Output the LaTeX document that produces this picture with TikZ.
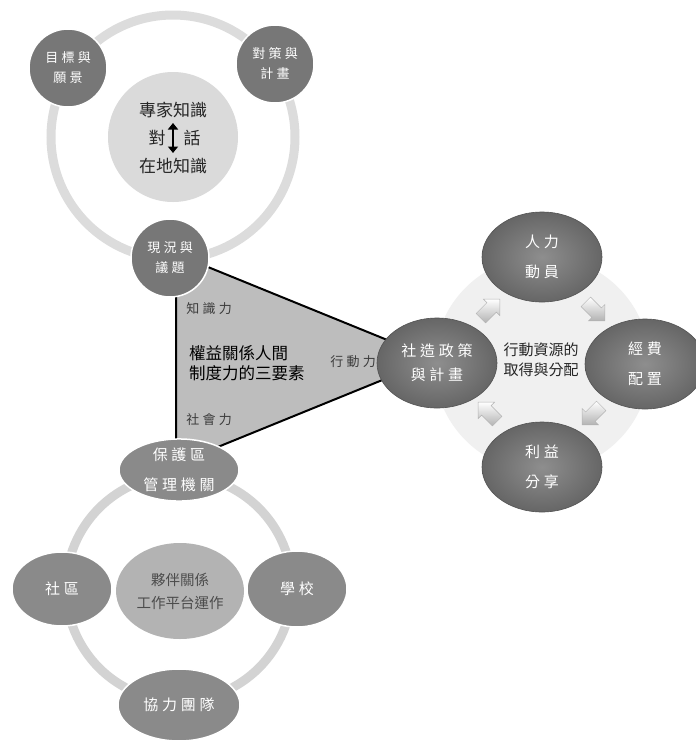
\documentclass[tikz,border=0pt]{standalone}
\usepackage{fontspec}
\newfontfamily\cjk{Noto Sans CJK TC}
\newfontfamily\cjkw[LetterSpace=25]{Noto Sans CJK TC}
\usetikzlibrary{shapes.geometric,shapes.arrows,arrows.meta}
\definecolor{ringtop}{HTML}{DCDCDC}
\definecolor{innertop}{HTML}{DADADA}
\definecolor{topcirc}{HTML}{777777}
\definecolor{trifill}{HTML}{BDBDBD}
\definecolor{pale}{HTML}{F0F0F0}
\definecolor{rin}{HTML}{8E8E8E}
\definecolor{rout}{HTML}{666666}
\definecolor{ringbot}{HTML}{D3D3D3}
\definecolor{innerbot}{HTML}{B3B3B3}
\definecolor{botell}{HTML}{8A8A8A}
\definecolor{labgray}{HTML}{3C3C3C}
\tikzset{
  topc/.style={circle, minimum size=78pt, inner sep=0pt, fill=topcirc, draw=white, line width=1.5pt,
    text=white, align=center, font=\cjkw\fontsize{13}{20}\selectfont},
  rell/.style={ellipse, minimum width=120pt, minimum height=90pt, inner sep=0pt,
    shading=radial, inner color=rin, outer color=rout, draw=rout!80!black, line width=0.6pt,
    text=white, align=center, font=\cjkw\fontsize{15}{30}\selectfont},
  bell/.style={ellipse, inner sep=0pt, fill=botell, draw=white, line width=1.5pt,
    text=white, align=center, font=\cjkw\fontsize{15}{30}\selectfont},
  trilab/.style={text=labgray, font=\cjkw\fontsize{13}{16}\selectfont, inner sep=0pt},
  blockarr/.style={single arrow, minimum height=27pt, inner sep=0pt,
    single arrow head extend=5pt, single arrow head indent=0pt,
    top color=white, bottom color=gray!60, draw=gray!60, line width=0.4pt},
  ctext/.style={text=black!85, font=\cjk\fontsize{17}{28}\selectfont, inner sep=0pt},
}
\newcommand{\arrbody}{\rule{0pt}{13pt}}
\begin{document}
\begin{tikzpicture}[x=1pt,y=-1pt]
\fill[white] (0,0) rectangle (696,740);
\useasboundingbox (0,0) rectangle (696,740);

% ---- top cluster background
\draw[ringtop, line width=9pt] (173,137) circle[radius=122pt];
\node[circle, minimum size=130pt, fill=innertop, inner sep=0pt] (know) at (173,137) {};

% ---- right cluster background
\fill[pale] (542,364) circle[radius=108pt];

% ---- bottom cluster background
\draw[ringbot, line width=9pt] (179,588) circle[radius=113pt];

% ---- triangle
\coordinate (TA) at (176,254);
\coordinate (TB) at (434,359);
\coordinate (TC) at (176,464);
\draw[fill=trifill, line width=2pt, line join=miter] (TA) -- (TB) -- (TC) -- cycle;

\node[trilab] (zhi) at (209,309) {知識力};
\node[trilab] (she) at (209,420) {社會力};
\node[trilab] (xing) at (353,362) {行動力};
\node[font=\cjk\fontsize{16.5}{20}\selectfont, align=left, anchor=west, inner sep=0pt, text=black] (quan) at (189,363) {權益關係人間\\制度力的三要素};

% ---- top cluster nodes
\node[topc] (goal) at (68,68) {目標與\\願景};
\node[topc] (plan) at (275,64) {對策與\\計畫};
\node[topc] (now) at (170,258) {現況與\\議題};

\node[ctext] (t1) at (173,110) {專家知識};
\node[ctext] (t2) at (157,138) {對};
\node[ctext] (t3) at (192,138) {話};
\node[ctext] (t4) at (173,166) {在地知識};
\coordinate (aup) at (173,123);
\coordinate (adn) at (173,153);
\draw[line width=2.6pt, {Triangle[width=10pt,length=6.5pt]}-{Triangle[width=10pt,length=6.5pt]}] (aup) -- (adn);

% ---- right cluster nodes
\node[rell] (ren) at (542,257) {人力\\動員};
\node[rell] (jing) at (645,364) {經費\\配置};
\node[rell] (li) at (542,467) {利益\\分享};
\node[rell, font=\cjkw\fontsize{15}{24}\selectfont] (shezao) at (437,363) {社造政策\\與計畫};
\node[text=black!85, font=\cjk\fontsize{15}{20}\selectfont, align=center, inner sep=0pt] (res) at (541,360) {行動資源的\\取得與分配};

\node[blockarr, rotate=45] (a1) at (488,311) {\arrbody};
\node[blockarr, rotate=-45] (a2) at (593,309) {\arrbody};
\node[blockarr, rotate=-135] (a3) at (594,413) {\arrbody};
\node[blockarr, rotate=135] (a4) at (490,414) {\arrbody};

% ---- bottom cluster nodes
\node[ellipse, minimum width=128pt, minimum height=96pt, fill=innerbot, inner sep=0pt,
  text=black!70, align=center, font=\cjk\fontsize{14.5}{23}\selectfont] (partner) at (180,591) {夥伴關係\\工作平台運作};
\node[bell, minimum width=120pt, minimum height=62pt] (prot) at (179,470) {保護區\\管理機關};
\node[bell, minimum width=100pt, minimum height=74pt] (comm) at (62,589) {社區};
\node[bell, minimum width=100pt, minimum height=76pt] (school) at (297,589) {學校};
\node[bell, minimum width=122pt, minimum height=72pt] (team) at (179,705) {協力團隊};
\end{tikzpicture}
\end{document}
